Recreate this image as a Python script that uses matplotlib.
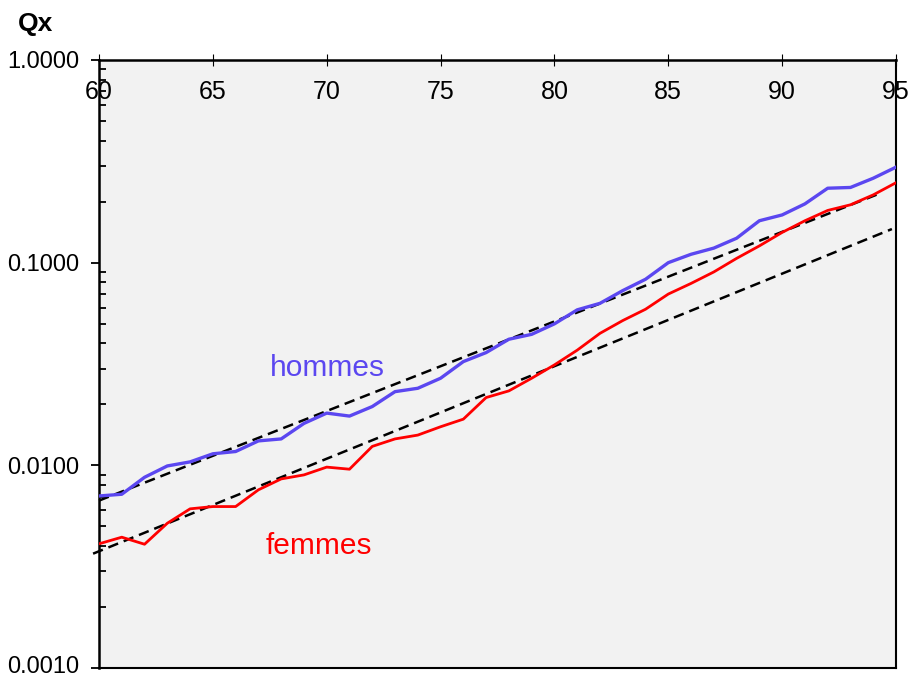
import numpy as np
import matplotlib
matplotlib.use("Agg")
import matplotlib.pyplot as plt
from matplotlib.ticker import LogLocator, FixedLocator, FuncFormatter, NullFormatter
from matplotlib.transforms import ScaledTranslation

plt.rcParams['font.family'] = ['Liberation Sans', 'DejaVu Sans']

# Ages and annual death probabilities
ages = list(range(60, 96))
qx_hommes = [0.00706, 0.0072, 0.00873, 0.00993, 0.0104, 0.0114, 0.0117, 0.0132,
             0.0135, 0.0161, 0.0181, 0.0175, 0.0195, 0.0231, 0.0240, 0.0269,
             0.0325, 0.0360, 0.0419, 0.0443, 0.0499, 0.0585, 0.0630, 0.0728,
             0.0828, 0.100, 0.110, 0.118, 0.132, 0.161, 0.172, 0.195,
             0.233, 0.235, 0.261, 0.296]
qx_femmes = [0.0041, 0.00442, 0.00408, 0.00518, 0.0061, 0.00626, 0.00626, 0.00757,
             0.00857, 0.00897, 0.0098, 0.00957, 0.0124, 0.0135, 0.0141, 0.0155,
             0.0169, 0.0216, 0.0233, 0.0269, 0.0313, 0.0370, 0.0448, 0.0518,
             0.0589, 0.070, 0.079, 0.090, 0.105, 0.121, 0.141, 0.161,
             0.181, 0.193, 0.216, 0.248]

# Log-linear (Gompertz) trend lines: log10(q) = a + b * (age - 60)
trend_a = [-2.174, -2.424]
trend_b = [0.0442, 0.04566]
trend_from = [60.0, 59.74]
trend_to = [94.2, 94.82]

x_ticks = [60, 65, 70, 75, 80, 85, 90, 95]
y_ticks = [0.001, 0.01, 0.1, 1.0]

col_h = '#5b47f0'
col_f = '#ff0000'

fig = plt.figure(figsize=(9.10, 6.77), dpi=100)
ax = fig.add_axes([99 / 910, 1 - 668 / 677, (896 - 99) / 910, (668 - 60) / 677])
ax.set_facecolor('#f2f2f2')

for a, b, x0, x1 in zip(trend_a, trend_b, trend_from, trend_to):
    xs = np.array([x0, x1])
    ax.plot(xs, 10 ** (a + b * (xs - 60)), color='black', lw=1.8,
            linestyle=(0, (4.2, 2.4)), clip_on=False, zorder=2)

ax.plot(ages, qx_hommes, color=col_h, lw=2.4, zorder=3)
ax.plot(ages, qx_femmes, color=col_f, lw=2.0, zorder=3)

ax.set_yscale('log')
ax.set_xlim(60, 95)
ax.set_ylim(0.001, 1.0)

ax.yaxis.set_major_locator(FixedLocator(y_ticks))
ax.yaxis.set_major_formatter(FuncFormatter(lambda v, p: f'{v:.4f}'))
ax.yaxis.set_minor_locator(LogLocator(base=10, subs=np.arange(2, 10)))
ax.yaxis.set_minor_formatter(NullFormatter())
ax.tick_params(axis='y', which='major', direction='out', length=6, width=1.3,
               labelsize=17, pad=8)
ax.tick_params(axis='y', which='minor', direction='in', length=5, width=1.3)

ax.xaxis.set_major_locator(FixedLocator(x_ticks))
ax.xaxis.tick_top()
ax.tick_params(axis='x', which='major', top=True, bottom=False, labeltop=True,
               labelbottom=False, direction='inout', length=9, width=0.8,
               labelsize=18, pad=-36)
ax.tick_params(axis='x', which='minor', top=False, bottom=False)

for s in ax.spines.values():
    s.set_linewidth(1.8)
    s.set_color('black')
ax.spines['bottom'].set_linewidth(1.5)
ax.spines['right'].set_linewidth(1.5)

ax.text(67.5, 0.0302, 'hommes', color=col_h, fontsize=21.5, ha='left', va='center')
ax.text(67.3, 0.00398, 'femmes', color=col_f, fontsize=21.5, ha='left', va='center')

fig.text(18 / 910, 1 - 24 / 677, 'Qx', fontsize=19, fontweight='bold',
         ha='left', va='center')

# keep the lowest y label inside the canvas
fig.canvas.draw()
for tick in ax.yaxis.get_major_ticks():
    if abs(tick.get_loc() - 0.001) < 1e-9:
        lbl = tick.label1
        lbl.set_transform(lbl.get_transform() + ScaledTranslation(0, 2.5 / 72, fig.dpi_scale_trans))

fig.savefig('out.png', dpi=100, facecolor='white')
